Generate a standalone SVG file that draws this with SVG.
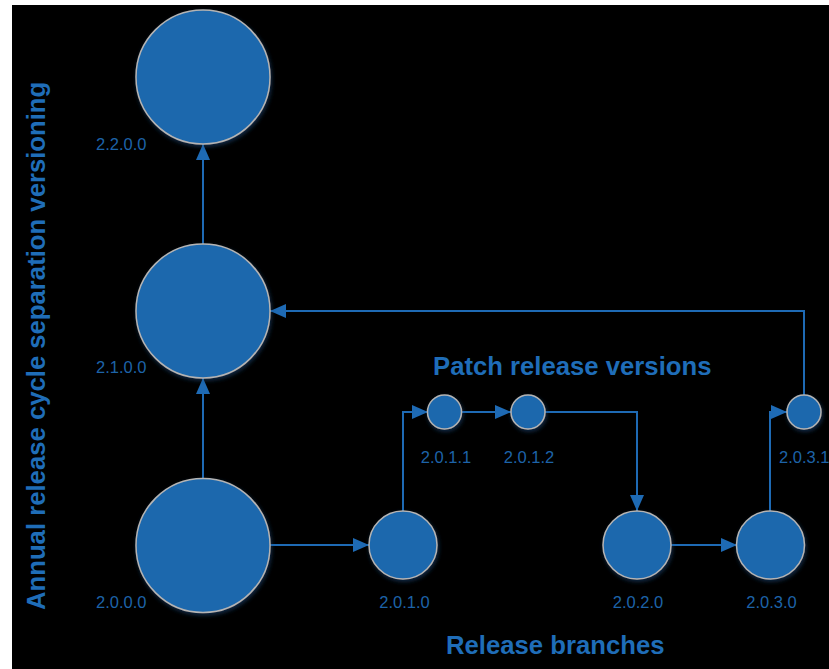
<svg xmlns="http://www.w3.org/2000/svg" width="829" height="669" viewBox="0 0 829 669">
  <style>
    .node { fill: #1b67ad; stroke: #b4b4b4; stroke-width: 1.5; filter: url(#glow); }
    .lbl { font-family: "Liberation Sans", Arial, sans-serif; font-size: 16.5px; fill: #1d63a8; }
    .head { font-family: "Liberation Sans", Arial, sans-serif; font-weight: bold; font-size: 25.7px; fill: #1f6db8; }
    .edge { fill: none; stroke: #1e6ab4; stroke-width: 2; marker-end: url(#arrow); }
  </style>
  <defs>
    <marker id="arrow" viewBox="0 0 16 14" refX="16" refY="7" markerWidth="16" markerHeight="14" markerUnits="userSpaceOnUse" orient="auto">
      <path d="M0,0 L16,7 L0,14 Z" fill="#1e6ab4"/>
    </marker>
    <filter id="glow" x="-20%" y="-20%" width="140%" height="140%">
      <feDropShadow dx="1" dy="2" stdDeviation="2" flood-color="#1a4f85" flood-opacity="0.55"/>
    </filter>
  </defs>

  <!-- page margin and dark canvas -->
  <rect x="0" y="0" width="829" height="669" fill="#ffffff"/>
  <rect x="12" y="5" width="817" height="664" fill="#000000"/>

  <!-- axis titles -->
  <text class="head" transform="translate(44.5,610) rotate(-90)">Annual release cycle separation versioning</text>
  <text class="head" x="433" y="375">Patch release versions</text>
  <text class="head" x="446" y="654">Release branches</text>

  <g id="connectors">
    <path class="edge" d="M203,478 V378"/>
    <path class="edge" d="M203,244 V144"/>
    <path class="edge" d="M270,545 H369"/>
    <path class="edge" d="M403,511 V412 H428"/>
    <path class="edge" d="M461,412 H511"/>
    <path class="edge" d="M545,412 H637 V511"/>
    <path class="edge" d="M671,545 H737"/>
    <path class="edge" d="M770,511 V412 H787"/>
    <path class="edge" d="M804,395 V311 H270"/>
  </g>

  <g id="n2200">
    <circle class="node" cx="203" cy="77" r="67"/>
    <text class="lbl" x="96" y="150">2.2.0.0</text>
  </g>
  <g id="n2100">
    <circle class="node" cx="203" cy="311" r="67"/>
    <text class="lbl" x="96" y="373">2.1.0.0</text>
  </g>
  <g id="n2000">
    <circle class="node" cx="203" cy="545.5" r="67"/>
    <text class="lbl" x="96" y="608">2.0.0.0</text>
  </g>
  <g id="n2010">
    <circle class="node" cx="403" cy="545" r="34"/>
    <text class="lbl" x="404.5" y="608" text-anchor="middle">2.0.1.0</text>
  </g>
  <g id="n2011">
    <circle class="node" cx="444.5" cy="412" r="17"/>
    <text class="lbl" x="446" y="463" text-anchor="middle">2.0.1.1</text>
  </g>
  <g id="n2012">
    <circle class="node" cx="528" cy="412" r="17"/>
    <text class="lbl" x="529" y="463" text-anchor="middle">2.0.1.2</text>
  </g>
  <g id="n2020">
    <circle class="node" cx="637" cy="545" r="34"/>
    <text class="lbl" x="638" y="608" text-anchor="middle">2.0.2.0</text>
  </g>
  <g id="n2030">
    <circle class="node" cx="770.5" cy="545" r="34"/>
    <text class="lbl" x="771.5" y="608" text-anchor="middle">2.0.3.0</text>
  </g>
  <g id="n2031">
    <circle class="node" cx="804" cy="412" r="17"/>
    <text class="lbl" x="779" y="463">2.0.3.1</text>
  </g>
</svg>
